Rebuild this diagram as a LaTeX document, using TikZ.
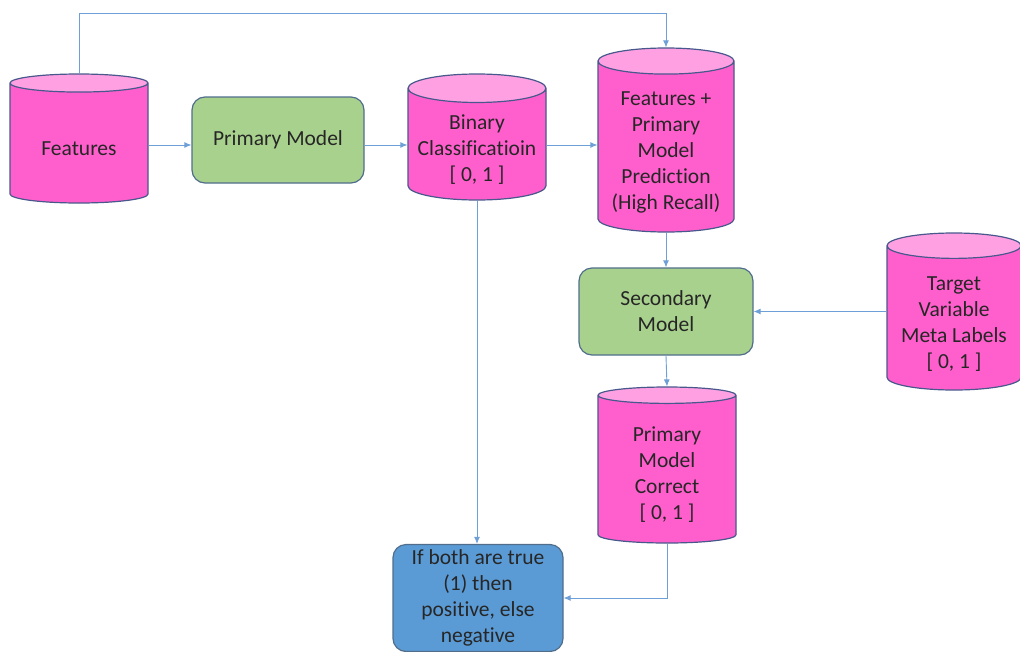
\documentclass[tikz,border=0pt]{standalone}
\usepackage{fontspec}
\setmainfont[Ligatures=NoCommon]{Carlito}
\usetikzlibrary{shapes.geometric,arrows.meta,positioning}

\definecolor{dbpink}{RGB}{255,95,205}
\definecolor{dbtop}{RGB}{255,160,226}
\definecolor{dbline}{RGB}{72,88,140}
\definecolor{modelgreen}{RGB}{169,209,142}
\definecolor{modelline}{RGB}{80,110,140}
\definecolor{decideblue}{RGB}{91,155,213}
\definecolor{flowblue}{RGB}{110,160,215}

\tikzset{
  store/.style={cylinder, shape border rotate=90, aspect=0.24, draw=dbline, line width=1.2pt,
    cylinder uses custom fill, cylinder body fill=dbpink, cylinder end fill=dbtop,
    align=center, text=black!85, inner sep=0pt,
    % a little room above the lines pushes them down in the body
    execute at begin node={\vbox\bgroup\vskip11pt},
    execute at end node={\egroup}},
  model/.style={rectangle, rounded corners=13pt, draw=modelline, line width=1.2pt,
    fill=modelgreen, align=center, text=black!85, inner sep=0pt},
  decision/.style={model, fill=decideblue},
  flow/.style={draw=flowblue, line width=0.9pt, -{Latex[length=7pt,width=6pt]}},
}

\begin{document}
\begin{tikzpicture}[x=1pt, y=-1pt, font=\fontsize{21.5}{26}\selectfont]
  \useasboundingbox (0,0) rectangle (1020,651);

  % data stores
  \node[store, minimum width=138pt, minimum height=129pt, anchor=shape center] (features) at (79,138.5) {Features};
  \node[store, minimum width=138pt, minimum height=126pt, anchor=shape center] (binary) at (477,137) {Binary\\Classificatioin\\{[} 0, 1 ]};
  \node[store, minimum width=136pt, minimum height=184pt, anchor=shape center] (featpred) at (666,140) {Features +\\Primary\\Model\\Prediction\\(High Recall)};
  \node[store, minimum width=134pt, minimum height=157pt, anchor=shape center] (target) at (954,311.5) {Target\\Variable\\Meta Labels\\{[} 0, 1 ]};
  \node[store, minimum width=138pt, minimum height=156pt, anchor=shape center] (correct) at (667,465) {Primary\\Model\\Correct\\{[} 0, 1 ]};

  % models
  \node[model, minimum width=172pt, minimum height=86pt] (primary) at (278,140) {Primary Model};
  \node[model, minimum width=174pt, minimum height=87pt] (secondary) at (666,311.5) {Secondary\\Model};
  \node[decision, minimum width=170pt, minimum height=107pt] (decide) at (478,598) {If both are true\\(1) then\\positive, else\\negative};

  % connectors
  \draw[flow] ([yshift=-5pt]primary.west -| features.east) -- ([yshift=-5pt]primary.west);
  \draw[flow] ([yshift=-5pt]primary.east) -- ([yshift=-5pt]primary.east -| binary.west);
  \draw[flow] ([yshift=-5pt]primary.east -| binary.east) -- ([yshift=-5pt]primary.east -| featpred.west);
  \draw[flow] (features.north) -- (features.north |- 0,13) -| (featpred.north);
  \draw[flow] (featpred.south) -- (secondary.north);
  \draw[flow] (target.west |- secondary.east) -- (secondary.east);
  \draw[flow] (secondary.south) -- (correct.north);
  \draw[flow] (binary.south) -- (binary.south |- decide.north);
  \draw[flow] (correct.south) |- (decide.east);
\end{tikzpicture}
\end{document}
